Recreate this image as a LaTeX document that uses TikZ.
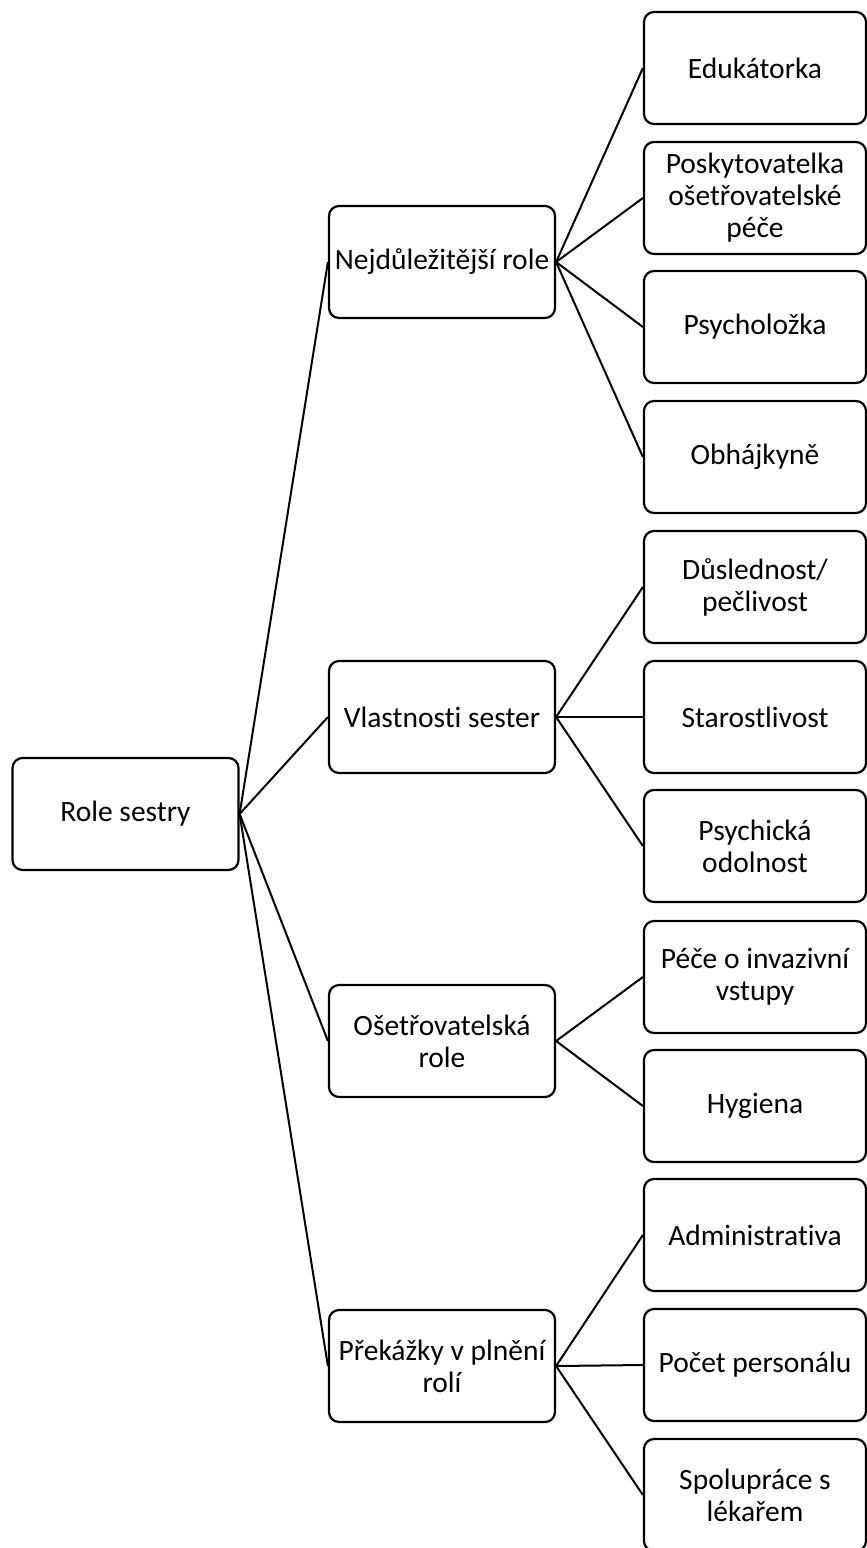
\documentclass[tikz,border=0pt]{standalone}
\usepackage{fontspec}
\setmainfont{Carlito}[Ligatures=CommonOff]
\usepackage{tikz}
\usetikzlibrary{positioning}

\begin{document}
\begin{tikzpicture}[
    x=1pt, y=-1pt,
    every node/.style={
        rectangle,
        rounded corners=10pt,
        draw=black,
        line width=2.2pt,
        inner sep=1pt,
        minimum width=226pt,
        minimum height=112pt,
        align=center,
        font=\fontsize{29.5}{32}\selectfont
    },
    leaf/.style={
        minimum width=222pt
    }
]
\useasboundingbox (0,0) rectangle (867,1548);

\node (0) at (125.5,814) {Role sestry};

\node (1) at (442,262) {Nejdůležitější role};
\node (2) at (442,717) {Vlastnosti sester};
\node (3) at (442,1041) {Ošetřovatelská\\role};
\node (4) at (442,1366) {Překážky v plnění\\rolí};

\node[leaf] (11) at (755,68) {Edukátorka};
\node[leaf] (12) at (755,198) {Poskytovatelka\\ošetřovatelské\\péče};
\node[leaf] (13) at (755,327) {Psycholožka};
\node[leaf] (14) at (755,457) {Obhájkyně};
\node[leaf] (21) at (755,587) {Důslednost/\\pečlivost};
\node[leaf] (22) at (755,717) {Starostlivost};
\node[leaf] (23) at (755,846) {Psychická\\odolnost};
\node[leaf] (31) at (755,977) {Péče o invazivní\\vstupy};
\node[leaf] (32) at (755,1106) {Hygiena};
\node[leaf] (41) at (755,1235) {Administrativa};
\node[leaf] (42) at (755,1365) {Počet personálu};
\node[leaf] (43) at (755,1495) {Spolupráce s\\lékařem};

\draw[line width=2pt] (0.east)--(1.west);
\draw[line width=2pt] (0.east)--(2.west);
\draw[line width=2pt] (0.east)--(3.west);
\draw[line width=2pt] (0.east)--(4.west);

\draw[line width=2pt] (1.east)--(11.west);
\draw[line width=2pt] (1.east)--(12.west);
\draw[line width=2pt] (1.east)--(13.west);
\draw[line width=2pt] (1.east)--(14.west);

\draw[line width=2pt] (2.east)--(21.west);
\draw[line width=2pt] (2.east)--(22.west);
\draw[line width=2pt] (2.east)--(23.west);

\draw[line width=2pt] (3.east)--(31.west);
\draw[line width=2pt] (3.east)--(32.west);

\draw[line width=2pt] (4.east)--(41.west);
\draw[line width=2pt] (4.east)--(42.west);
\draw[line width=2pt] (4.east)--(43.west);

\end{tikzpicture}
\end{document}
